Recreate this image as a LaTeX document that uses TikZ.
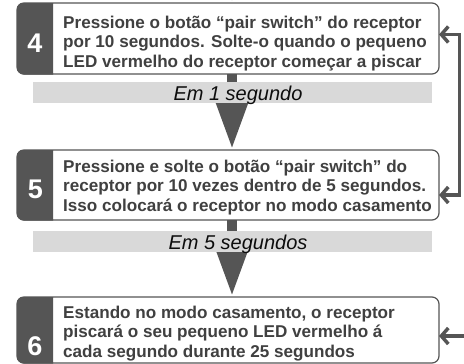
\documentclass[tikz,border=0pt]{standalone}
\usepackage{fontspec}
\setmainfont{Liberation Sans}
\usetikzlibrary{arrows.meta}
\newlength{\du}
\setlength{\du}{1pt}
\definecolor{boxgray}{rgb}{0.333333, 0.333333, 0.333333}
\definecolor{textgray}{rgb}{0.250000, 0.250000, 0.250000}
\definecolor{bandgray}{rgb}{0.850000, 0.850000, 0.850000}
\tikzset{
  stepbox/.style={draw=boxgray, line width=1.2\du, fill=white, rounded corners=7\du,
    minimum width=422\du, inner sep=0pt, outer sep=0pt},
  stepnum/.style={text=white, font=\bfseries\fontsize{27}{27}\selectfont, inner sep=0pt},
  steptext/.style={text=textgray, font=\bfseries\fontsize{17.1}{19.8}\selectfont,
    align=left, anchor=west, inner sep=0pt},
  waitband/.style={fill=bandgray, minimum width=399\du, minimum height=21\du, inner sep=0pt},
  waittext/.style={anchor=base, inner sep=0pt, text=black!95, font=\itshape\fontsize{20}{20}\selectfont},
  flowarrow/.style={draw=boxgray, line width=10.5\du, -{Triangle[length=47pt,width=29pt]}},
  loopline/.style={draw=boxgray, line width=3.5\du},
  barb/.tip={Straight Barb[length=7pt,width=16pt]}
}

\begin{document}
\begin{tikzpicture}
\pgftransformxscale{1.000000}
\pgftransformyscale{-1.000000}
\useasboundingbox (0\du,0\du) rectangle (464\du,364\du);
% boxes
\node[stepbox, minimum height=71\du] (box4) at (228\du,38.5\du){};
\node[stepbox, minimum height=70\du] (box5) at (228\du,185\du){};
\node[stepbox, minimum height=66\du] (box6) at (228\du,330\du){};
% dark number columns
\coordinate (dark) at (53\du,0\du);
\begin{scope}
\clip (box4.north west) rectangle (dark |- box4.south);
\filldraw[fill=boxgray, draw=boxgray, line width=1.2\du, rounded corners=7\du] (box4.north west) rectangle (box4.south east);
\end{scope}
\begin{scope}
\clip (box5.north west) rectangle (dark |- box5.south);
\filldraw[fill=boxgray, draw=boxgray, line width=1.2\du, rounded corners=7\du] (box5.north west) rectangle (box5.south east);
\end{scope}
\begin{scope}
\clip (box6.north west) rectangle (dark |- box6.south);
\filldraw[fill=boxgray, draw=boxgray, line width=1.2\du, rounded corners=7\du] (box6.north west) rectangle (box6.south east);
\end{scope}
% numbers
\node[stepnum] (num4) at (35\du,43\du){4};
\node[stepnum] (num5) at (35.5\du,189\du){5};
\node[stepnum] (num6) at (35\du,346.5\du){6};
% texts
\node[steptext] (txt4) at (63\du,43.5\du){Pressione o botão “pair switch” do receptor\\por 10 segundos. Solte-o quando o pequeno\\LED vermelho do receptor começar a piscar};
\node[steptext] (txt5) at (63\du,187.5\du){Pressione e solte o botão “pair switch” do\\receptor por 10 vezes dentro de 5 segundos.\\Isso colocará o receptor no modo casamento};
\node[steptext] (txt6) at (63\du,333.5\du){Estando no modo casamento, o receptor\\piscará o seu pequeno LED vermelho á\\cada segundo durante 25 segundos};
% flow arrows
\coordinate (flow) at (232\du,0\du);
\coordinate (prev) at (232\du,-60\du);
\draw[flowarrow] (prev) -- (flow |- box4.north);
\draw[flowarrow] (flow |- box4.south) -- (flow |- box5.north);
\draw[flowarrow] (flow |- box5.south) -- (flow |- box6.north);
% waiting bands
\node[waitband] (wait1) at (232.5\du,92.5\du){};
\node[waittext] (lbl1) at (238\du,100\du){Em 1 segundo};
\node[waitband] (wait2) at (232.5\du,241.5\du){};
\node[waittext] (lbl2) at (238\du,249\du){Em 5 segundos};
% return lines
\coordinate (ret4) at (459.5\du,34.5\du);
\coordinate (ret5) at (459.5\du,195\du);
\coordinate (ret6) at (464\du,336\du);
\draw[loopline, barb-barb] (ret4 -| box4.east) -- (ret4) -- (ret5) -- (ret5 -| box5.east);
\draw[loopline, -barb] (ret6) -- (ret6 -| box6.east);
\end{tikzpicture}
\end{document}
